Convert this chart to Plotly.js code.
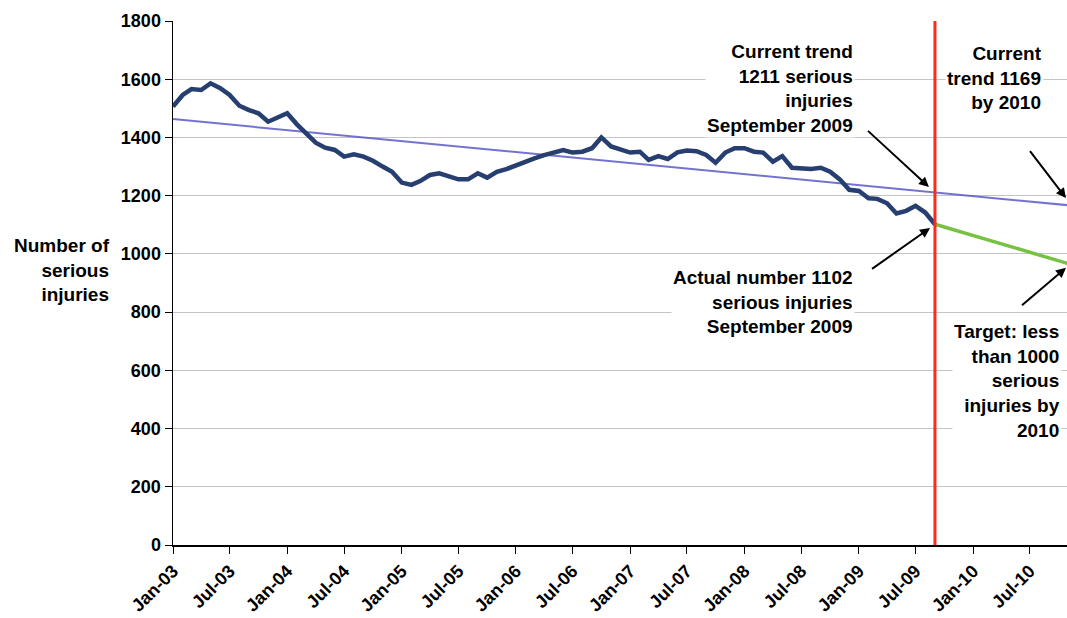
<!DOCTYPE html>
<html>
<head>
<meta charset="utf-8">
<script src="https://cdn.plot.ly/plotly-3.0.1.min.js"></script>
<style>
  html, body { margin: 0; padding: 0; background: #fff; }
  #chart { width: 1067px; height: 618px; }
</style>
</head>
<body>
<div id="chart"></div>
<script>
// monthly serious injuries, Jan 2003 .. Sep 2009
var startMonth = "2003-01-01";
var injuries = [
  1506, 1546, 1566, 1563, 1586, 1569, 1546, 1509, 1494, 1483, 1454, 1468,
  1483, 1445, 1416, 1382, 1365, 1357, 1334, 1342, 1334, 1320, 1300, 1282,
  1245, 1237, 1250, 1271, 1277, 1265, 1256, 1256, 1277, 1262, 1282, 1291,
  1305, 1317, 1328, 1339, 1348, 1357, 1348, 1351, 1363, 1400, 1369, 1359,
  1348, 1351, 1323, 1336, 1326, 1349, 1355, 1353, 1340, 1313, 1348, 1363,
  1363, 1351, 1348, 1317, 1336, 1296, 1294, 1292, 1296, 1282, 1256, 1220,
  1216, 1191, 1189, 1174, 1139, 1148, 1165, 1142, 1102
];

// trend line and target line end points
var trendX = ["2003-01-01", "2010-12-01"];
var trendY = [1463, 1164];
var targetX = ["2009-09-01", "2010-12-01"];
var targetY = [1102, 957];

var markerMonth = "2009-09-01";
var xEnd = "2010-10-28";
var yTicks = [0, 200, 400, 600, 800, 1000, 1200, 1400, 1600, 1800];

var months = [];
var d0 = new Date(startMonth + "T00:00:00Z");
for (var i = 0; i < injuries.length; i++) {
  var d = new Date(Date.UTC(d0.getUTCFullYear(), d0.getUTCMonth() + i, 1));
  months.push(d.toISOString().slice(0, 10));
}

var font = "Arial, 'Liberation Sans', sans-serif";

var actual = {
  x: months,
  y: injuries,
  mode: "lines",
  line: { color: "#263f70", width: 4.5 },
  hoverinfo: "skip"
};
var trend = {
  x: trendX,
  y: trendY,
  mode: "lines",
  line: { color: "rgba(80,80,195,0.8)", width: 2 },
  hoverinfo: "skip"
};
var target = {
  x: targetX,
  y: targetY,
  mode: "lines",
  line: { color: "#77c242", width: 3.5 },
  hoverinfo: "skip"
};

function label(text, x, y) {
  return {
    xref: "paper", yref: "paper", x: x, y: y,
    xanchor: "right", yanchor: "middle", align: "right",
    text: text, showarrow: false, bgcolor: "#fff",
    font: { family: font, size: 19, color: "#000" }
  };
}
function arrow(x, y, ax, ay) {
  return {
    xref: "paper", yref: "paper", x: x, y: y, ax: ax, ay: ay,
    text: " ", showarrow: true, arrowhead: 2, arrowsize: 1,
    arrowwidth: 2, arrowcolor: "#000"
  };
}

var layout = {
  width: 1067,
  height: 618,
  margin: { l: 173, r: 0, t: 21, b: 73 },
  paper_bgcolor: "#fff",
  plot_bgcolor: "#fff",
  showlegend: false,
  font: { family: font, color: "#000" },
  xaxis: {
    type: "date",
    range: [startMonth, xEnd],
    tick0: startMonth,
    dtick: "M6",
    tickformat: "%b-%y",
    tickangle: -45,
    ticks: "outside",
    ticklen: 7,
    tickcolor: "#000",
    showgrid: false,
    showline: true,
    linecolor: "#000",
    linewidth: 1.5,
    tickfont: { family: font, size: 18, color: "#000", weight: "bold" }
  },
  yaxis: {
    range: [0, 1800],
    tickvals: yTicks,
    ticks: "outside",
    ticklen: 7,
    tickcolor: "#000",
    showgrid: true,
    gridcolor: "#c4c4c4",
    gridwidth: 1,
    zeroline: false,
    showline: true,
    linecolor: "#000",
    linewidth: 1.5,
    tickfont: { family: font, size: 18, color: "#000", weight: "bold" }
  },
  shapes: [{
    type: "line", xref: "x", yref: "y",
    x0: markerMonth, x1: markerMonth, y0: 0, y1: 1800,
    line: { color: "#ff2a1a", width: 3 }
  }],
  annotations: [
    {
      xref: "paper", yref: "paper", x: -0.068, y: 0.525,
      xanchor: "right", yanchor: "middle", align: "right",
      text: "<b>Number of<br>serious<br>injuries</b>", showarrow: false,
      font: { family: font, size: 19, color: "#000" }
    },
    label("<b>Current trend<br>1211 serious<br>injuries<br>September 2009</b>", 0.763, 0.871),
    label("<b>Actual number 1102<br>serious injuries<br>September 2009</b>", 0.763, 0.464),
    label("<b>Current<br>trend 1169<br>by 2010</b>", 0.974, 0.892),
    label("<b>Target: less<br>than 1000<br>serious<br>injuries by<br>2010</b>", 0.994, 0.313),
    arrow(0.8456, 0.683, -64, -59),
    arrow(0.8468, 0.605, -61, 43),
    arrow(1.0, 0.662, -40, -51),
    arrow(1.0, 0.529, -48, 40)
  ]
};

Plotly.newPlot("chart", [trend, target, actual], layout, { displayModeBar: false, staticPlot: true });
</script>
</body>
</html>
